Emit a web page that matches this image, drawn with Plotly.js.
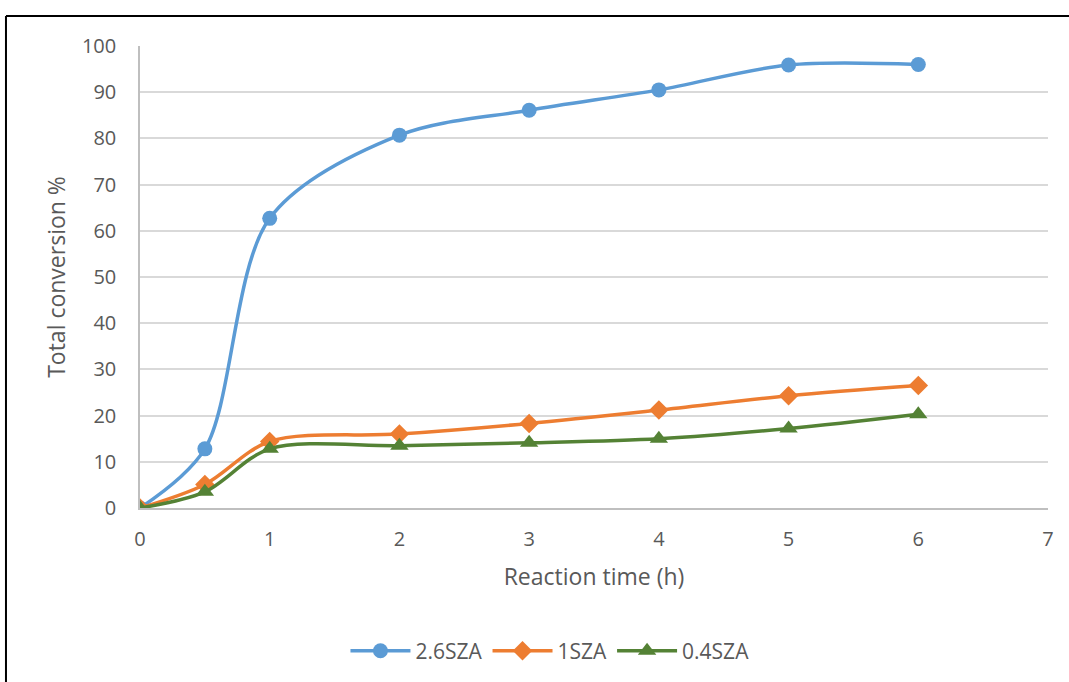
<!DOCTYPE html>
<html>
<head>
<meta charset="utf-8">
<script src="https://cdn.plot.ly/plotly-3.0.1.min.js"></script>
<style>
  html, body { margin: 0; padding: 0; background: #fff; }
  #chart { width: 1069px; height: 682px; }
</style>
</head>
<body>
<div id="chart"></div>
<script>
// Reaction time (h)
const reactionTime = [0, 0.5, 1, 2, 3, 4, 5, 6];

// Total conversion % for each catalyst
const conv26SZA = [0, 12.8, 62.7, 80.7, 86.1, 90.5, 95.9, 96.0];
const conv1SZA = [0, 5.1, 14.4, 16.0, 18.3, 21.2, 24.3, 26.5];
const conv04SZA = [0, 3.5, 12.8, 13.5, 14.1, 15.0, 17.2, 20.3];

const seriesNames = ['2.6SZA', '1SZA', '0.4SZA'];
const xTicks = [0, 1, 2, 3, 4, 5, 6, 7];
const yTicks = [0, 10, 20, 30, 40, 50, 60, 70, 80, 90, 100];

const FONT = '"Open Sans", "Liberation Sans", sans-serif';
const TEXT = '#595959';

function series(y, name, color, symbol, size) {
  return {
    x: reactionTime, y: y, name: name,
    type: 'scatter', mode: 'lines+markers',
    line: { color: color, width: 3.5, shape: 'spline', smoothing: 0.9 },
    marker: { color: color, symbol: symbol, size: size }
  };
}

const traces = [
  series(conv26SZA, seriesNames[0], '#5b9bd5', 'circle', 15),
  series(conv1SZA, seriesNames[1], '#ed7d31', 'diamond', 15),
  series(conv04SZA, seriesNames[2], '#548235', 'triangle-up', 16)
];

const layout = {
  width: 1069, height: 682,
  margin: { l: 140, r: 21, t: 46, b: 173 },
  paper_bgcolor: '#ffffff', plot_bgcolor: '#ffffff',
  font: { family: FONT, color: TEXT, size: 20 },
  showlegend: true,
  legend: {
    orientation: 'h', x: 0.4515, xanchor: 'center', y: -0.307, yanchor: 'middle',
    font: { family: FONT, size: 21, color: TEXT }, itemwidth: 60, tracegroupgap: 0
  },
  xaxis: {
    range: [0, 7], tickvals: xTicks, ticktext: xTicks.map(String),
    showgrid: false, zeroline: false,
    showline: true, linecolor: '#bfbfbf', linewidth: 1.5,
    ticks: '', ticklabelstandoff: 12,
    tickfont: { family: FONT, size: 20, color: TEXT },
    title: { text: 'Reaction time (h)', font: { family: FONT, size: 23, color: TEXT }, standoff: 18 }
  },
  yaxis: {
    range: [0, 100], tickvals: yTicks, ticktext: yTicks.map(String),
    showgrid: true, gridcolor: '#d9d9d9', gridwidth: 1.5, zeroline: false,
    showline: true, linecolor: '#bfbfbf', linewidth: 1.5,
    ticks: '', ticklabelstandoff: 18,
    tickfont: { family: FONT, size: 20, color: TEXT },
    title: { text: 'Total conversion %', font: { family: FONT, size: 23, color: TEXT }, standoff: 10 }
  },
  shapes: [
    // chart frame (top and left edges)
    { type: 'line', xref: 'paper', yref: 'paper', x0: -0.1476, x1: 1.05, y0: 1.0648, y1: 1.0648,
      line: { color: '#000000', width: 2 } },
    { type: 'line', xref: 'paper', yref: 'paper', x0: -0.1476, x1: -0.1476, y0: 1.0648, y1: -0.4,
      line: { color: '#000000', width: 2 } }
  ]
};

Plotly.newPlot('chart', traces, layout, { displayModeBar: false, responsive: false });
</script>
</body>
</html>
